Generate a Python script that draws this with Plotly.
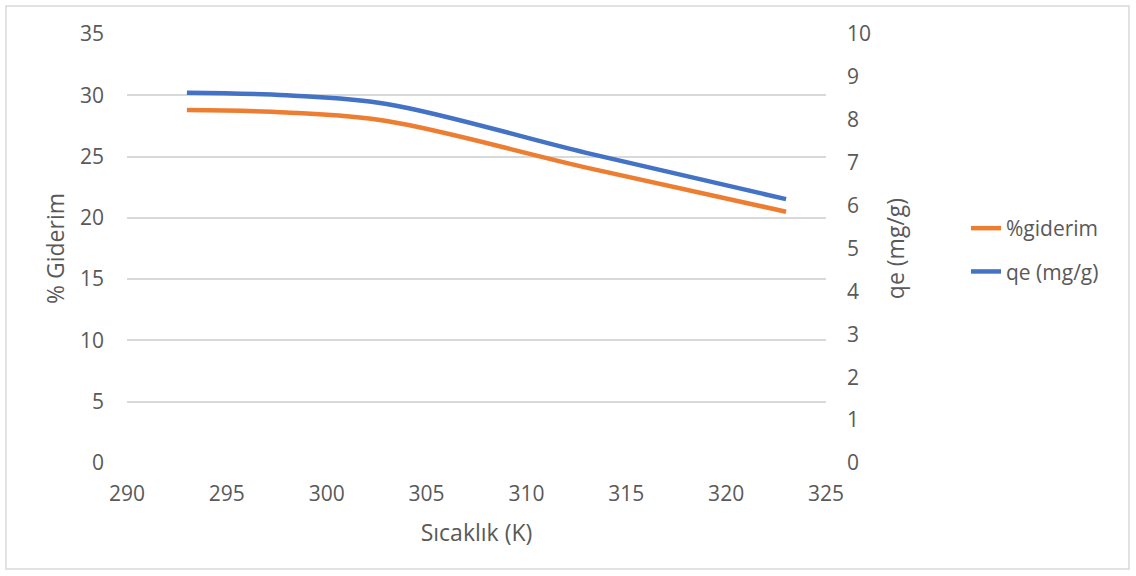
import plotly.graph_objects as go

temperature_K = [293, 298, 303, 313, 323]
giderim_pct = [28.8, 28.6, 27.9, 24.1, 20.5]
qe_mg_g = [8.63, 8.57, 8.37, 7.23, 6.15]

ORANGE = "#ED7D31"
BLUE = "#4472C4"
GRID = "#D9D9D9"
TXT = "#595959"
FONT = "Open Sans, sans-serif"

W, H = 1136, 576
L, R, T, B = 127, 310, 34, 113
pw, ph = W - L - R, H - T - B

fig = go.Figure()
fig.add_trace(go.Scatter(x=temperature_K, y=giderim_pct, name="%giderim", mode="lines",
                         line=dict(color=ORANGE, width=4.5, shape="spline", smoothing=1.0),
                         legendgroup="a", yaxis="y"))
fig.add_trace(go.Scatter(x=temperature_K, y=qe_mg_g, name="qe (mg/g)", mode="lines",
                         line=dict(color=BLUE, width=4.5, shape="spline", smoothing=1.0),
                         legendgroup="b", yaxis="y2"))

fig.update_layout(
    width=W, height=H,
    margin=dict(l=L, r=R, t=T, b=B),
    paper_bgcolor="white", plot_bgcolor="white",
    font=dict(family=FONT, color=TXT, size=21),
    xaxis=dict(range=[290, 325], dtick=5, tick0=290, showgrid=False, zeroline=False,
               showline=False, ticks="", ticklabelstandoff=16,
               title=dict(text="Sıcaklık (K)", font=dict(size=23), standoff=18)),
    yaxis=dict(range=[0, 35], dtick=5, showgrid=True, gridcolor=GRID, gridwidth=1.5,
               zeroline=False, ticks="", ticklabelstandoff=22,
               title=dict(text="% Giderim", font=dict(size=23), standoff=8)),
    yaxis2=dict(range=[0, 10], dtick=1, overlaying="y", side="right", showgrid=False,
                zeroline=False, ticks="", ticklabelstandoff=20,
                title=dict(text="qe (mg/g)", font=dict(size=23), standoff=17)),
    legend=dict(x=(966 - L) / pw, y=(H - B - 228 + 20) / ph, xanchor="left", yanchor="top",
                font=dict(size=21), tracegroupgap=13, bgcolor="rgba(0,0,0,0)"),
    shapes=[dict(type="rect", xref="paper", yref="paper",
                 x0=(6 - L) / pw, x1=(1129 - L) / pw,
                 y0=(H - B - 569) / ph, y1=(H - B - 6) / ph,
                 line=dict(color=GRID, width=1.5), fillcolor="rgba(0,0,0,0)", layer="below")],
)

fig.write_html("out.html", config={"displayModeBar": False},
               post_script="document.body.style.margin='0';document.body.style.overflow='hidden';")
